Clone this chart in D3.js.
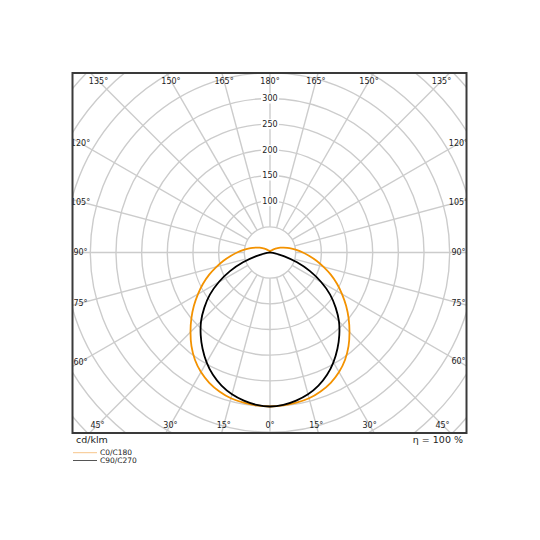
<!DOCTYPE html>
<meta charset="utf-8">
<script src="https://d3js.org/d3.v7.min.js"></script>
<style>
  body { margin: 0; background: #fff; }
  svg { font-family: "DejaVu Sans", sans-serif; }
</style>
<div id="ldc"></div>
<script>

  // gamma angles (degrees from nadir), 5 degree steps
  const gammas = [0, 5, 10, 15, 20, 25, 30, 35, 40, 45, 50, 55, 60, 65, 70, 75, 80, 85, 90,
                  95, 100, 105, 110, 115, 120, 125, 130, 135, 140, 145, 150, 155, 160, 165, 170, 175, 180];

  // cd/klm for each plane pair
  const c0c180 = [300, 299, 297, 294, 288, 280, 269, 255, 238, 219, 200, 181, 162, 144, 126, 108, 92, 77, 64,
                  53, 43, 35, 28, 22, 17, 13, 10, 8, 6, 5, 4, 4, 3, 3, 3, 3, 3];
  const c90c270 = [300, 298, 293, 286, 276, 263, 247, 229, 210, 190, 167, 143, 115, 86, 56, 29, 10, 2, 0,
                   0, 0, 0, 0, 0, 0, 0, 0, 0, 0, 0, 0, 0, 0, 0, 0, 0, 0];

  const ringValues = [50, 100, 150, 200, 250, 300, 350, 400, 450, 500, 550];
  const ringLabels = [100, 150, 200, 250, 300];
  const spokeAngles = [0, 15, 30, 45, 60, 75, 90, 105, 120, 135, 150, 165, 180];

  const series = [
    {name: "C0/C180", values: c0c180, color: "#f39200", legend: "#f7c68a"},
    {name: "C90/C270", values: c90c270, color: "#000000", legend: "#555555"}
  ];

  // frame and centre
  const frame = {x: 72.5, y: 73, w: 394, h: 360};
  const cx = 270, cy = 252.5;

  const svg = d3.select("#ldc")
    .append("svg")
      .attr("width", 540)
      .attr("height", 540);

  svg.append("defs").append("clipPath")
      .attr("id", "clip")
    .append("rect")
      .attr("x", frame.x).attr("y", frame.y)
      .attr("width", frame.w).attr("height", frame.h);

  const r = d3.scaleLinear().domain([0, 300]).range([0, 154]);

  const plot = svg.append("g").attr("clip-path", "url(#clip)");
  const grid = plot.append("g").attr("transform", `translate(${cx},${cy})`);

  // rings
  grid.selectAll("circle")
    .data(ringValues)
    .join("circle")
      .attr("r", d => r(d))
      .attr("fill", "none")
      .attr("stroke", "#cccccc")
      .attr("stroke-width", 1.4);

  // spokes, both halves
  const rad = d => d * Math.PI / 180;
  const spokes = [];
  spokeAngles.forEach(g => {
    spokes.push({g: g, side: 1});
    if (g !== 0 && g !== 180) spokes.push({g: g, side: -1});
  });
  grid.selectAll("line.spoke")
    .data(spokes)
    .join("line")
      .attr("class", "spoke")
      .attr("x1", d => d.side * r(50) * Math.sin(rad(d.g)))
      .attr("y1", d => r(50) * Math.cos(rad(d.g)))
      .attr("x2", d => d.side * r(700) * Math.sin(rad(d.g)))
      .attr("y2", d => r(700) * Math.cos(rad(d.g)))
      .attr("stroke", "#cccccc")
      .attr("stroke-width", 1.4);

  // ring labels on the upper vertical
  const rl = grid.selectAll("g.rlab")
    .data(ringLabels)
    .join("g")
      .attr("class", "rlab")
      .attr("transform", d => `translate(0,${-r(d)})`);
  rl.append("rect")
      .attr("x", -9).attr("y", -5)
      .attr("width", 18).attr("height", 10)
      .attr("fill", "#fff");
  rl.append("text")
      .attr("text-anchor", "middle")
      .attr("dy", "0.35em")
      .attr("font-size", 8)
      .attr("fill", "#222")
      .text(d => d);

  // curves
  const line = d3.lineRadial()
    .angle(d => d.a)
    .radius(d => r(d.v))
    .curve(d3.curveCatmullRom.alpha(0.5));

  series.forEach(s => {
    const pts = [];
    for (let i = gammas.length - 1; i >= 0; i--) pts.push({a: Math.PI - rad(gammas[i]), v: s.values[i]});
    for (let i = 1; i < gammas.length; i++) pts.push({a: Math.PI + rad(gammas[i]), v: s.values[i]});
    grid.append("path")
      .datum(pts)
      .attr("d", line)
      .attr("fill", "none")
      .attr("stroke", s.color)
      .attr("stroke-width", 1.8);
  });

  // angle labels along the inside of the frame
  const inset = 8;
  const lx0 = frame.x + inset, lx1 = frame.x + frame.w - inset;
  const ly0 = frame.y + inset, ly1 = frame.y + frame.h - inset;
  function edgePoint(g, side) {
    const dx = side * Math.sin(rad(g)), dy = Math.cos(rad(g));
    let t = Infinity;
    if (dx > 1e-9) t = Math.min(t, (lx1 - cx) / dx);
    if (dx < -1e-9) t = Math.min(t, (lx0 - cx) / dx);
    if (dy > 1e-9) t = Math.min(t, (ly1 - cy) / dy);
    if (dy < -1e-9) t = Math.min(t, (ly0 - cy) / dy);
    return [cx + t * dx, cy + t * dy];
  }
  plot.selectAll("text.alab")
    .data(spokes)
    .join("text")
      .attr("class", "alab")
      .attr("x", d => edgePoint(d.g, d.side)[0])
      .attr("y", d => edgePoint(d.g, d.side)[1])
      .attr("text-anchor", "middle")
      .attr("dy", "0.35em")
      .attr("font-size", 8)
      .attr("fill", "#222")
      .text(d => d.g + "°");

  // frame
  svg.append("rect")
      .attr("x", frame.x).attr("y", frame.y)
      .attr("width", frame.w).attr("height", frame.h)
      .attr("fill", "none")
      .attr("stroke", "#3a3a3a")
      .attr("stroke-width", 2);

  // units and efficiency
  svg.append("text")
      .attr("x", 76).attr("y", 443)
      .attr("font-size", 9.5)
      .attr("fill", "#222")
      .text("cd/klm");
  svg.append("text")
      .attr("x", 463).attr("y", 443)
      .attr("text-anchor", "end")
      .attr("font-size", 9.5)
      .attr("fill", "#222")
      .text("η = 100 %");

  // legend
  const leg = svg.selectAll("g.leg")
    .data(series)
    .join("g")
      .attr("class", "leg")
      .attr("transform", (d, i) => `translate(73,${452.7 + i * 7.8})`);
  leg.append("line")
      .attr("x1", 0).attr("x2", 24)
      .attr("stroke", d => d.legend)
      .attr("stroke-width", 1);
  leg.append("text")
      .attr("x", 27)
      .attr("dy", "0.35em")
      .attr("font-size", 7.5)
      .attr("fill", "#222")
      .text(d => d.name);

</script>
